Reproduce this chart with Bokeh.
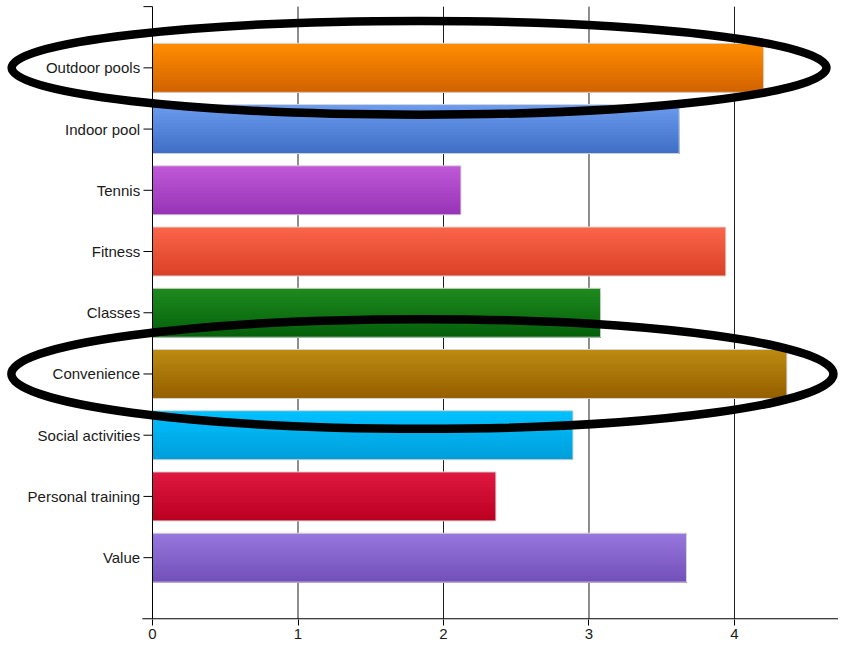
from bokeh.plotting import figure
from bokeh.models import Range1d, FixedTicker, ColumnDataSource, LinearAxis
from bokeh.core.properties import value
from bokeh.embed import file_html
from bokeh.resources import INLINE

# ---- data ----
categories = ["Outdoor pools", "Indoor pool", "Tennis", "Fitness", "Classes",
              "Convenience", "Social activities", "Personal training", "Value"]
scores = [4.20, 3.62, 2.12, 3.94, 3.08, 4.36, 2.89, 2.36, 3.67]
x_ticks = [0, 1, 2, 3, 4]
highlighted = ["Outdoor pools", "Convenience"]

# ---- styles ----
top_colors = ["#FF8C00", "#6A9BEE", "#BE58D6", "#FA6448", "#1E8A1E",
              "#BB8A10", "#00C0FF", "#DE1840", "#9677DC"]
bottom_colors = ["#D26300", "#3F6FC6", "#9834B8", "#DB4127", "#04600A",
                 "#966000", "#009FDB", "#BC0022", "#7350BA"]
FONT = "'Liberation Sans Narrow', 'Arial Narrow', 'Liberation Sans'"

positions = list(range(1, len(categories) + 1))
BAR_H = 0.8
N = 16


def hex2rgb(h):
    h = h.lstrip("#")
    return tuple(int(h[i:i + 2], 16) for i in (0, 2, 4))


def lerp(c1, c2, t):
    a, b = hex2rgb(c1), hex2rgb(c2)
    return "#%02x%02x%02x" % tuple(round(a[i] + (b[i] - a[i]) * t) for i in range(3))


# layered strips: each strip runs from its own top down to the bar bottom,
# drawn top-first so the next one covers the rest -> smooth vertical gradient
strip = dict(y=[], h=[], right=[], color=[])
for pos, v, ct, cb in zip(positions, scores, top_colors, bottom_colors):
    bottom = pos + BAR_H / 2
    for k in range(N):
        top = pos - BAR_H / 2 + k * BAR_H / N
        strip["y"].append((top + bottom) / 2)
        strip["h"].append(bottom - top)
        strip["right"].append(v)
        strip["color"].append(lerp(ct, cb, k / (N - 1)))

p = figure(width=838, height=641, output_backend="svg", toolbar_location=None,
           x_range=Range1d(-1.0447, 4.7148), y_range=Range1d(10.01, -0.1),
           min_border=0, outline_line_color=None, background_fill_color="white",
           x_axis_type=None, y_axis_type=None)

p.xgrid.visible = False
p.ygrid.visible = False

# vertical grid lines
p.segment(x0=x_ticks[1:], y0=[0] * 4, x1=x_ticks[1:], y1=[10] * 4,
          line_color="#1e1e1e", line_width=1)

# bars with vertical gradient
p.hbar(y="y", right="right", left=0, height="h", source=ColumnDataSource(strip),
       fill_color="color", line_color=None)
p.hbar(y=positions, right=scores, left=0, height=BAR_H, fill_color=None,
       line_color="#d6d6d6", line_width=1)

# left axis (drawn in the frame so the highlight ellipses can overlap the labels)
p.segment(x0=[0], y0=[0], x1=[0], y1=[10], line_color="black", line_width=1)
p.segment(x0=[-0.062] * 10, y0=[0] + positions, x1=[0] * 10, y1=[0] + positions,
          line_color="black", line_width=1)
p.text(x=[-0.085] * len(categories), y=positions, text=categories,
       text_align="right", text_baseline="middle", text_font=value(FONT),
       text_font_size="15px", text_color="#1a1a1a")

# bottom axis line
p.segment(x0=[-0.07], y0=[10], x1=[4.8], y1=[10], line_color="black", line_width=1.3)

xaxis = LinearAxis(ticker=FixedTicker(ticks=x_ticks), axis_line_color=None,
                   major_tick_out=6, major_tick_in=0, minor_tick_line_color=None,
                   major_tick_line_color="black", major_label_standoff=3,
                   major_label_text_font=FONT, major_label_text_font_size="15px",
                   major_label_text_color="#1a1a1a")
p.add_layout(xaxis, "below")

# highlight ellipses
hi_pos = [positions[categories.index(c)] for c in highlighted]
p.ellipse(x=[1.832, 1.855], y=hi_pos, width=[5.60, 5.65], height=[1.53, 1.79],
          fill_color=None, line_color="black", line_width=8.5)

open("out.html", "w").write(file_html(p, INLINE))
